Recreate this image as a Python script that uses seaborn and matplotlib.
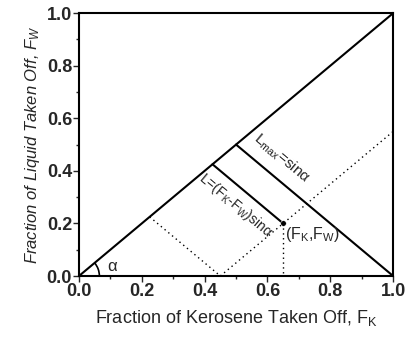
import numpy as np
import seaborn as sns
import matplotlib.pyplot as plt
from matplotlib.patches import Arc

# Solid construction lines (data coordinates)
diag_x = [0.0, 1.0]
diag_y = [0.0, 1.0]
lmax_x = [0.5, 1.0]
lmax_y = [0.5, 0.0]
l_x = [0.425, 0.65]
l_y = [0.425, 0.2]

# Dotted construction lines
dot1_x = [0.45, 1.0]
dot1_y = [0.0, 0.55]
dot2_x = [0.225, 0.45]
dot2_y = [0.225, 0.0]
dot3_x = [0.65, 0.65]
dot3_y = [0.2, 0.0]

# Operating point
pt_x = [0.65]
pt_y = [0.2]

ticks = [0.0, 0.2, 0.4, 0.6, 0.8, 1.0]
tick_labels = ["0.0", "0.2", "0.4", "0.6", "0.8", "1.0"]

sns.set_style("ticks")
plt.rcParams["font.family"] = ["Liberation Sans", "DejaVu Sans"]
plt.rcParams["mathtext.default"] = "regular"

fig = plt.figure(figsize=(4.07, 3.37), dpi=100)
ax = fig.add_axes([0.194, 0.181, 0.772, 0.780])

for xs, ys in [(diag_x, diag_y), (lmax_x, lmax_y), (l_x, l_y)]:
    sns.lineplot(x=xs, y=ys, sort=False, estimator=None, color="black",
                 lw=1.5, ax=ax)
for xs, ys in [(dot1_x, dot1_y), (dot2_x, dot2_y), (dot3_x, dot3_y)]:
    sns.lineplot(x=xs, y=ys, sort=False, estimator=None, color="black",
                 lw=1.0, ax=ax, linestyle=(0, (1, 2.5)))
sns.scatterplot(x=pt_x, y=pt_y, color="black", s=16, ax=ax, zorder=5)

ax.add_patch(Arc((0, 0), 0.13, 0.13 * 314 / 263, theta1=0, theta2=45,
                 color="black", lw=1.2))
ax.text(0.09, 0.008, "α", fontsize=12, ha="left", va="bottom")

ax.text(0.545, 0.505, r"L$_{max}$=sinα", fontsize=11, rotation=-45,
        transform_rotates_text=True, rotation_mode="anchor",
        ha="left", va="bottom")
ax.text(0.405, 0.405, r"L=(F$_K$-F$_W$)sinα", fontsize=10, rotation=-45,
        transform_rotates_text=True, rotation_mode="anchor",
        ha="left", va="top")
ax.text(0.655, 0.195, r"(F$_K$,F$_W$)", fontsize=11.5, ha="left", va="top")

ax.set_xlim(0, 1)
ax.set_ylim(0, 1)
ax.set_xticks(ticks)
ax.set_xticklabels(tick_labels, fontsize=13, fontweight="bold")
ax.set_yticks(ticks)
ax.set_yticklabels(tick_labels, fontsize=13, fontweight="bold")
ax.set_xticks(np.arange(0.1, 1.0, 0.2), minor=True)
ax.set_yticks(np.arange(0.1, 1.0, 0.2), minor=True)
ax.tick_params(which="major", direction="out", length=4, width=1.0, pad=1)
ax.tick_params(which="minor", direction="out", length=2.5, width=1.0)
for s in ax.spines.values():
    s.set_linewidth(1.5)
    s.set_color("black")

ax.set_xlabel(r"Fraction of Kerosene Taken Off, F$_K$", fontsize=13,
              labelpad=6)
ax.set_ylabel(r"Fraction of Liquid Taken Off, F$_W$", fontsize=12,
              style="italic", labelpad=3)

fig.savefig("out.png", dpi=100)
